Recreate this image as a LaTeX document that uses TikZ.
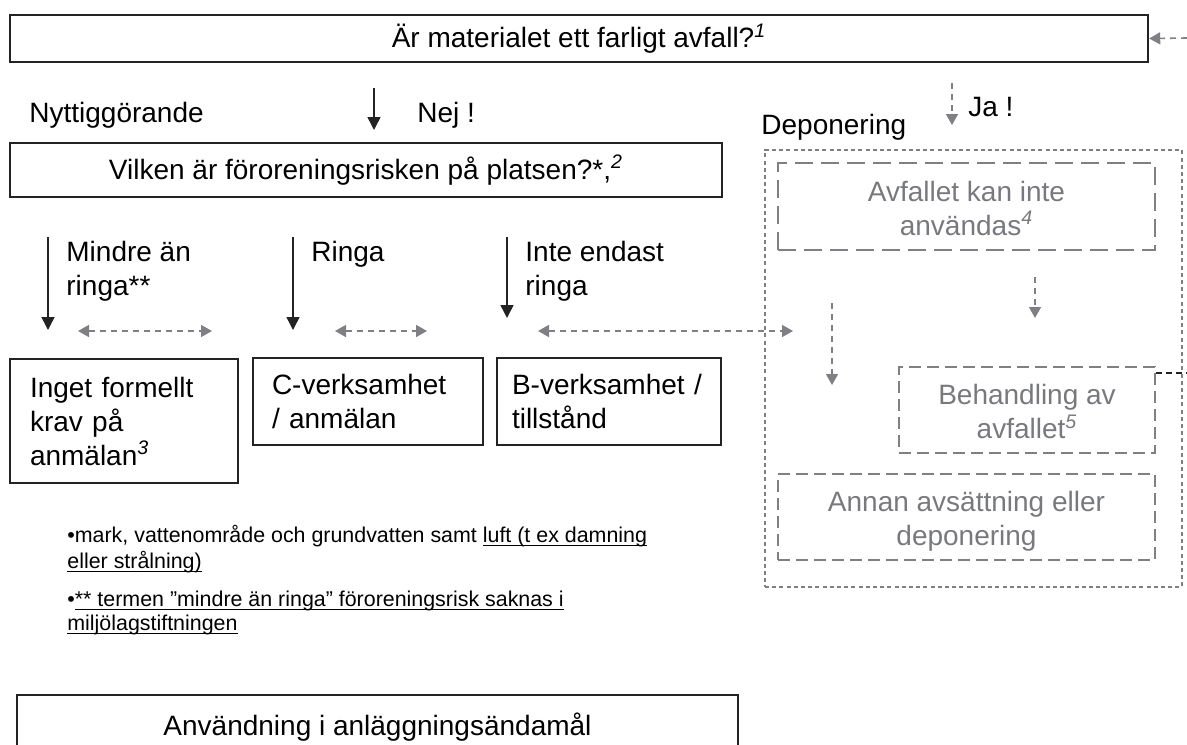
\documentclass[tikz,border=0pt]{standalone}
\usepackage{fontspec}
\setmainfont{Liberation Sans}
\usepackage{tikz}
\usetikzlibrary{arrows.meta}

\definecolor{dgrey}{RGB}{120,121,125}
\definecolor{lgrey}{RGB}{128,128,132}
\definecolor{bline}{RGB}{35,35,35}

\newcommand{\fn}[1]{\textsuperscript{\itshape #1}}
\newcommand{\glines}[2]{\raisebox{-6pt}[0pt][0pt]{\begin{tabular}{@{}c@{}}#1\\#2\end{tabular}}}
\newsavebox{\ulnbox}
\newcommand{\uln}[1]{\sbox{\ulnbox}{#1}\rlap{\rule[-1.7pt]{\wd\ulnbox}{0.55pt}}\usebox{\ulnbox}}

\begin{document}
\begin{tikzpicture}[x=0.5pt,y=-0.5pt,>={Triangle[length=6.5pt,width=6.5pt]},
    every node/.style={font=\fontsize{14}{17}\selectfont, inner sep=0pt},
    box/.style={draw=bline, line width=1.2pt, inner xsep=9pt},
    lbox/.style={box, text width=#1, align=left},
    gbox/.style={draw=lgrey, line width=0.9pt, text=dgrey},
    blk/.style={->, line width=0.75pt, bline},
    gry/.style={->, line width=0.8pt, lgrey, dash pattern=on 3pt off 2.5pt,
        >={Triangle[length=5.5pt,width=6pt]}},
    gdbl/.style={gry, <->},
    note/.style={anchor=west, align=left, font=\fontsize{10.7}{13}\selectfont}]

\useasboundingbox (0,0) rectangle (1187,744);

% Question boxes
\node[box, minimum width=569pt, minimum height=23.5pt] (farligt) at (579,38.5)
    {Är materialet ett farligt avfall?\fn{1}};
\node[box, minimum width=356pt, minimum height=27pt] (risk) at (366,170)
    {Vilken är föroreningsrisken på platsen?*,\fn{2}};

% Headings
\node[anchor=west] (nytta) at (29,115) {Nyttiggörande};
\node[anchor=west] (nej) at (417,115) {Nej !};
\node[anchor=west] (ja) at (968,107) {Ja !};
\node[anchor=west] (depo) at (761,127) {Deponering};

% Outcome boxes
\node[lbox=94pt, inner xsep=10pt, minimum width=114pt, minimum height=62pt] (inget) at (124,421)
    {Inget formellt\\krav på\\anmälan\fn{3}};
\node[lbox=96pt, inner xsep=9.5pt, minimum width=115pt, minimum height=43.5pt] (cverk) at (368,401.5)
    {C-verksamhet\\/ anmälan};
\node[lbox=97pt, inner xsep=7.5pt, minimum width=112pt, minimum height=43.5pt] (bverk) at (609,401.5)
    {B-verksamhet /\\tillstånd};

% Risk labels
\node[anchor=west, align=left] (mindre) at (66,271) {Mindre än\\ringa**};
\node[anchor=west] (ringa) at (311,254) {Ringa};
\node[anchor=west, align=left] (inte) at (525,271) {Inte endast\\ringa};

% Deponering
\node[draw=lgrey, line width=0.8pt, dash pattern=on 2pt off 1.6pt,
    minimum width=208.5pt, minimum height=218.5pt] (depbox) at (973.5,368.5) {};
\node[gbox, dash pattern=on 9pt off 4pt, minimum width=188.5pt, minimum height=43.5pt]
    (kaninte) at (966.5,206.5) {\glines{Avfallet kan inte}{användas\fn{4}}};
\node[gbox, dash pattern=on 6pt off 3pt, minimum width=128pt, minimum height=43pt]
    (behand) at (1027,410) {\glines{Behandling av}{avfallet\fn{5}}};
\node[gbox, dash pattern=on 6pt off 3pt, minimum width=188.5pt, minimum height=43pt]
    (annan) at (966.5,517) {\glines{Annan avsättning eller}{deponering}};

% Notes
\node[note] (not1) at (67,549)
    {•mark, vattenområde och grundvatten samt \uln{luft (t ex damning}\\
     \uln{eller strålning)}};
\node[note, font=\fontsize{10.7}{12}\selectfont] (not2) at (67,613)
    {•\uln{** termen ”mindre än ringa” föroreningsrisk saknas i}\\
     \uln{miljölagstiftningen}};

% Bottom box
\node[box, minimum width=360.5pt, minimum height=32pt] (anlagg) at (377.5,727)
    {Användning i anläggningsändamål};

% Arrow ends
\coordinate (inR) at (1187,38);
\coordinate (nejA) at (374,88);   \coordinate (nejB) at (374,130);
\coordinate (jaA) at (952,83);    \coordinate (jaB) at (952,125);
\coordinate (m1) at (48,237);     \coordinate (m2) at (48,330);
\coordinate (r1) at (293,237);    \coordinate (r2) at (293,330);
\coordinate (i1) at (507,237);    \coordinate (i2) at (507,318);
\coordinate (d1a) at (78,331);    \coordinate (d1b) at (212,331);
\coordinate (d2a) at (335,331);   \coordinate (d2b) at (427,331);
\coordinate (d3a) at (538,331);   \coordinate (d3b) at (793,331);
\coordinate (k1) at (1035,277);   \coordinate (k2) at (1035,318);
\coordinate (v1) at (832,303);    \coordinate (v2) at (832,385);
\coordinate (bR) at (1187,373);

% Arrows
\draw[gry] (inR) -- (farligt.east);
\draw[blk] (nejA) -- (nejB);
\draw[gry] (jaA) -- (jaB);
\draw[blk] (m1) -- (m2);
\draw[blk] (r1) -- (r2);
\draw[blk] (i1) -- (i2);
\draw[gdbl] (d1a) -- (d1b);
\draw[gdbl] (d2a) -- (d2b);
\draw[gdbl] (d3a) -- (d3b);
\draw[gry] (k1) -- (k2);
\draw[gry] (v1) -- (v2);
\draw[bline, line width=0.8pt, dash pattern=on 3pt off 2pt] (behand.east |- bR) -- (bR);

\end{tikzpicture}
\end{document}
